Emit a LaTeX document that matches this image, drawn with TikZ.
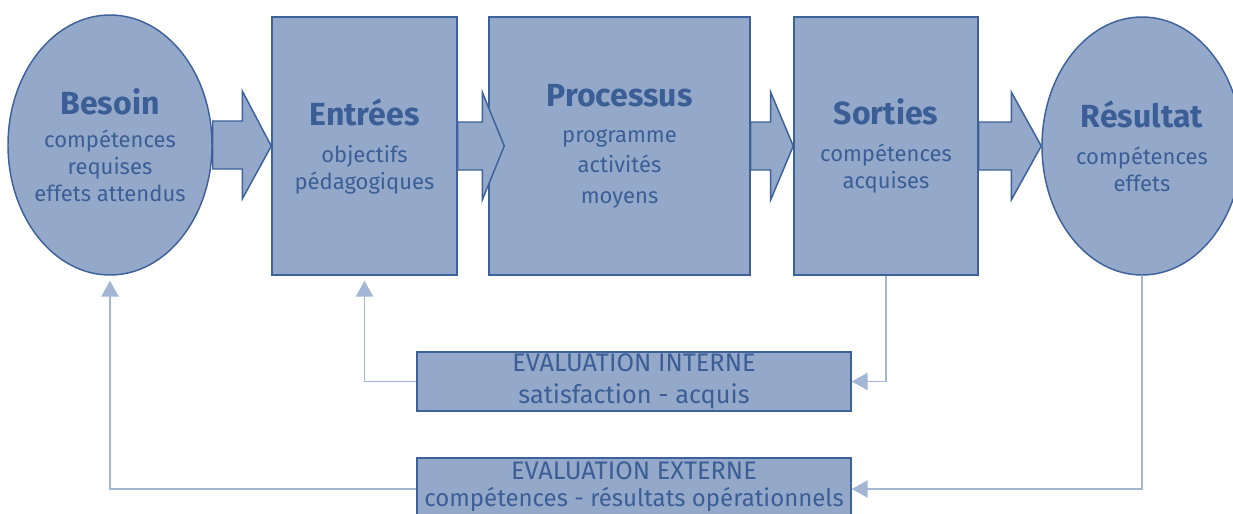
\documentclass[tikz,border=0pt]{standalone}
\usepackage{fontspec}
\setmainfont{Fira Sans}
\usetikzlibrary{shapes.geometric,arrows.meta,calc}
\definecolor{fillb}{HTML}{94A9C9}
\definecolor{edgeb}{HTML}{3D619B}
\definecolor{textb}{HTML}{3B5E96}
\definecolor{lineb}{HTML}{A3B6D3}
\newcommand\ttl[1]{{\fontsize{24}{28}\selectfont\bfseries #1}}
\newcommand\blockarrow[3]{%
  \path[arrowshape] let \p1=(#1), \p2=(#2) in
    (\x1,\y1+18pt) -- (\x2-#3,\y1+18pt) -- (\x2-#3,\y1+40.5pt) -- (\x2,\y2)
    -- (\x2-#3,\y1-40.5pt) -- (\x2-#3,\y1-18pt) -- (\x1,\y1-18pt) -- cycle;}
\begin{document}
\begin{tikzpicture}[x=0.75pt,y=-0.75pt,
  shapebase/.style={fill=fillb,draw=edgeb,line width=1.1pt,text=textb,align=center,inner sep=0pt,
    font=\fontsize{16.5}{20}\selectfont},
  oval/.style={shapebase,ellipse,inner sep=-12pt},
  blockbox/.style={shapebase,rectangle},
  evalbox/.style={shapebase,rectangle,font=\fontsize{19}{24}\selectfont},
  evaltext/.style={text=textb,align=center,inner sep=0pt,font=\fontsize{18}{20}\selectfont},
  arrowshape/.style={fill=fillb,draw=edgeb,line width=1.1pt,line join=miter},
  conn/.style={draw=lineb,line width=1.2pt,-{Triangle[length=12pt,width=13pt,fill=lineb]}}]
\useasboundingbox (0,0) rectangle (1233,514);
\node[oval,minimum width=153pt,minimum height=195pt] (besoin) at (110,145)
  {\ttl{Besoin}\\[5pt]compétences\\requises\\effets attendus};
\node[blockbox,minimum width=138.75pt,minimum height=193.5pt] (entrees) at (364.5,146)
  {\ttl{Entrées}\\[8pt]objectifs\\pédagogiques};
\node[blockbox,minimum width=195.75pt,minimum height=193.5pt] (processus) at (619.5,146)
  {\ttl{Processus}\\[7pt]programme\\[3pt]activités\\[3pt]moyens};
\node[blockbox,minimum width=138pt,minimum height=193.5pt] (sorties) at (886,146)
  {\ttl{Sorties}\\[8pt]compétences\\acquises};
\node[oval,minimum width=150pt,minimum height=193.5pt] (resultat) at (1142,146)
  {\ttl{Résultat}\\[8pt]compétences\\effets};
\blockarrow{besoin.east}{entrees.west}{21.75pt}
\blockarrow{entrees.east}{$(processus.west)+(16,0)$}{16.5pt}
\blockarrow{processus.east}{sorties.west}{17pt}
\blockarrow{sorties.east}{resultat.west}{22.5pt}
\node[evalbox,minimum width=325.5pt,minimum height=44.25pt] (ei) at (634,381.5)
  {EVALUATION INTERNE\\satisfaction - acquis};
\node[evalbox,minimum width=325.5pt,minimum height=46.5pt] (ee) at (634,489) {};
\node[evaltext] (eetext) at (634,487)
  {{\fontsize{19}{20}\selectfont EVALUATION EXTERNE}\\compétences - résultats opérationnels};
\draw[conn] (ei.west) -| ([yshift=-3.75pt]entrees.south);
\draw[conn] (sorties.south) |- (ei.east);
\draw[conn] (ee.west) -| ([yshift=-3.75pt]besoin.south);
\draw[conn] (resultat.south) |- (ee.east);
\end{tikzpicture}
\end{document}
